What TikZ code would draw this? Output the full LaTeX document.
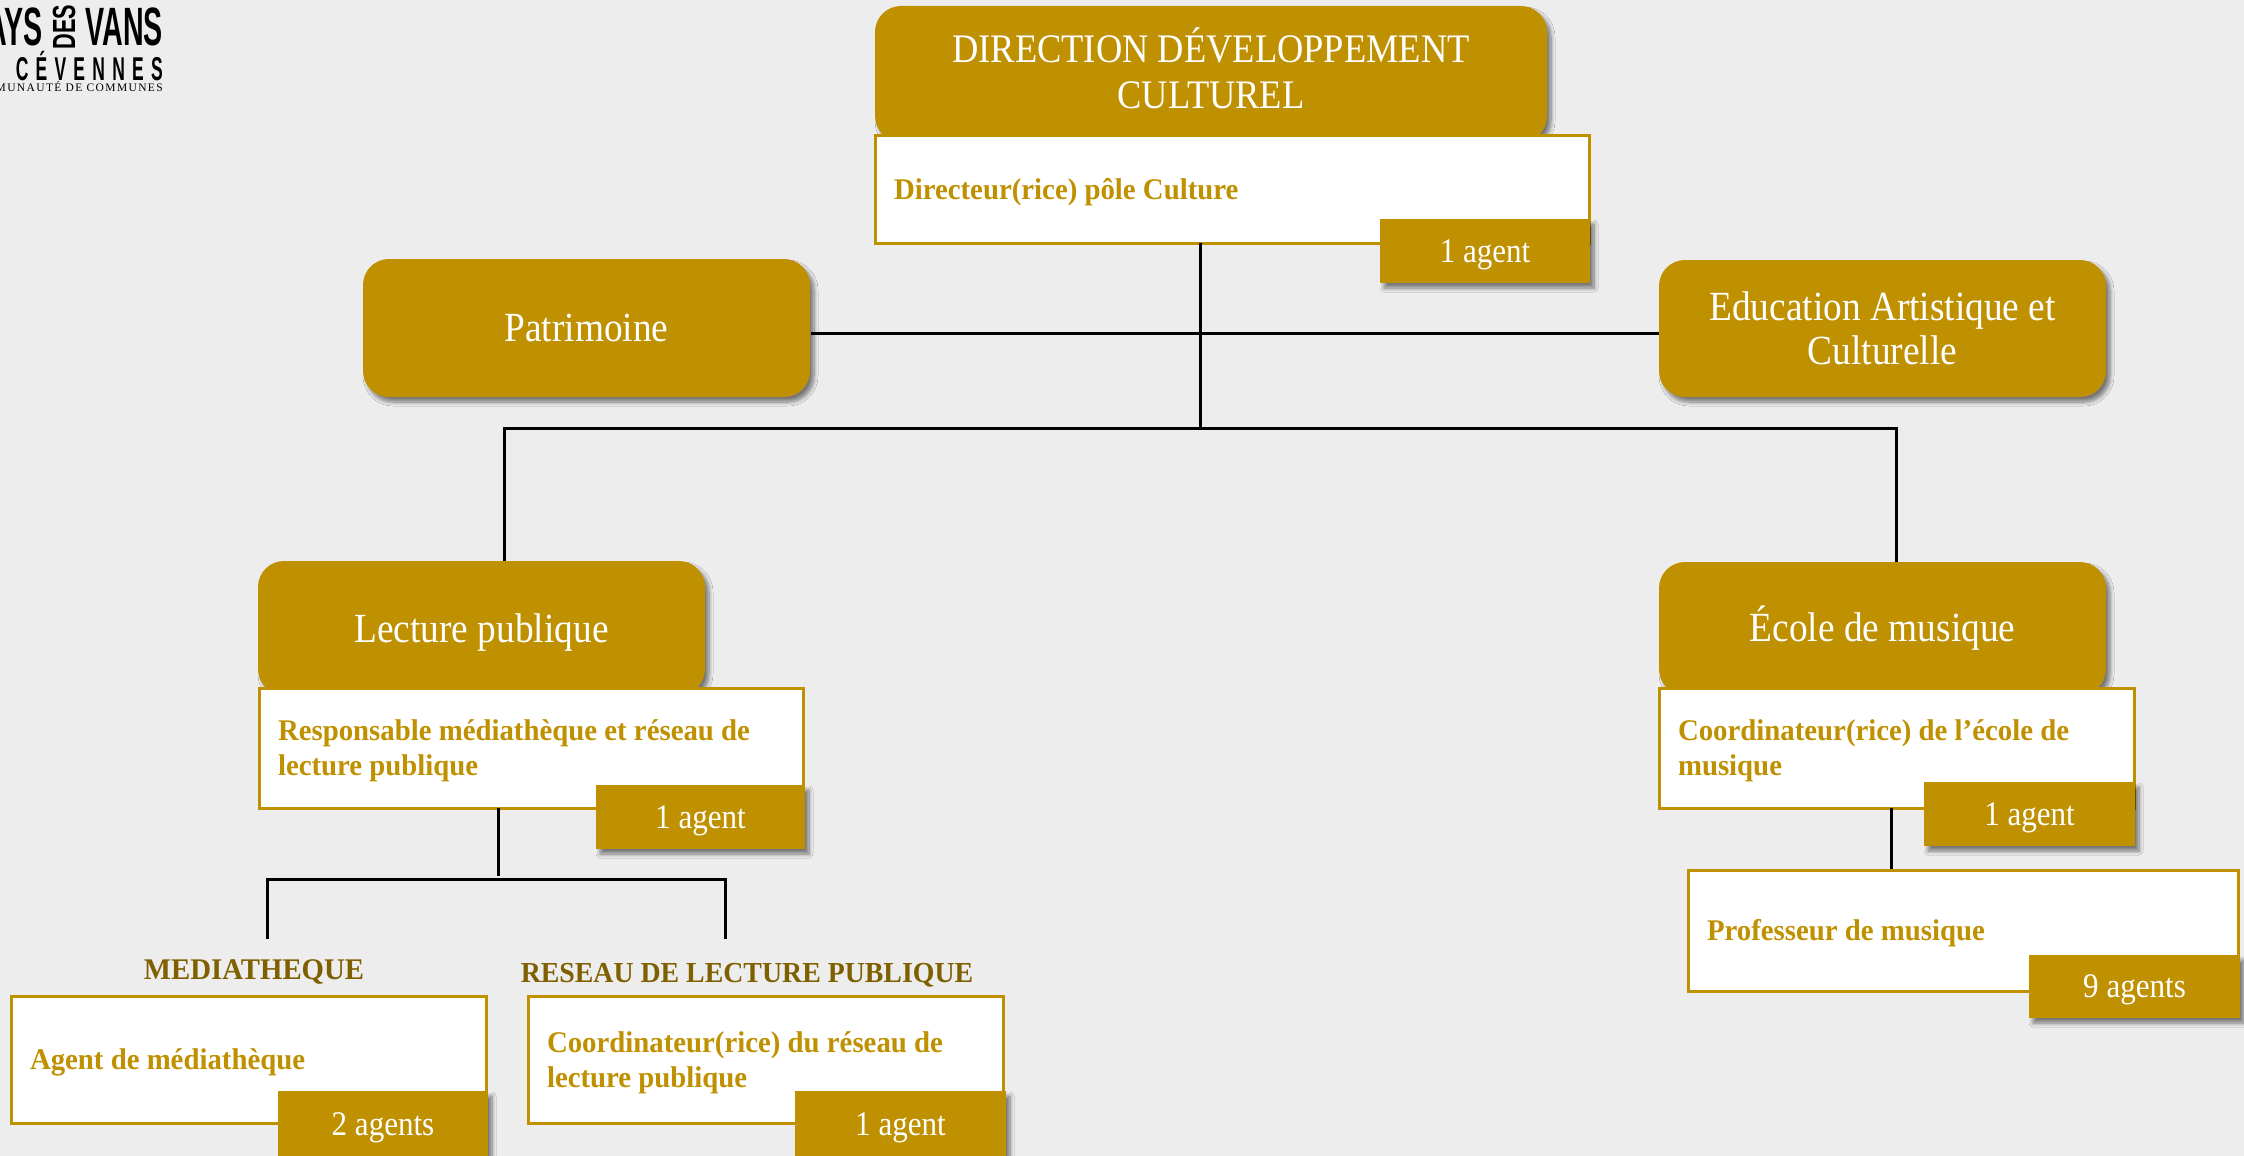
\documentclass[tikz,border=0pt]{standalone}
\usepackage{fontspec}
\setmainfont{Liberation Serif}[FakeStretch=0.9,BoldFeatures={FakeStretch=0.96}]
\newfontfamily\logofont{Liberation Sans}[FakeStretch=0.53]
\newfontfamily\logowide{Liberation Sans}[FakeStretch=0.68]
\newfontfamily\logoserif{Liberation Serif}
\usetikzlibrary{positioning,shadows,shadows.blur}
\definecolor{golden}{HTML}{BF9000}
\definecolor{darkgolden}{HTML}{7F6000}
\definecolor{pagegray}{HTML}{EDEDED}
\tikzset{
  softshadow/.style={blur shadow={shadow xshift=4pt,shadow yshift=-5pt,shadow blur radius=4pt,shadow opacity=50,shadow blur steps=8}},
  headbox/.style={anchor=north west,fill=golden,rounded corners=26pt,softshadow,text=white,align=center,
    inner sep=0pt,outer sep=0pt,font=\fontsize{41.5}{44}\selectfont},
  postbox/.style={anchor=north west,fill=white,draw=golden,line width=3pt,text=golden,align=flush left,
    inner xsep=19pt,inner ysep=0pt,outer sep=0pt,font=\fontsize{30}{35}\selectfont\bfseries,
    execute at begin node=\rule{0pt}{27pt}},
  countbox/.style={anchor=north west,fill=golden,softshadow,text=white,align=center,
    inner sep=0pt,outer sep=0pt,font=\fontsize{34.5}{35}\selectfont,
    execute at begin node=\rule{0pt}{30pt}},
  sitelabel/.style={text=darkgolden,inner sep=0pt,font=\fontsize{30}{35}\selectfont\bfseries},
  linkline/.style={draw=black,line width=3pt},
  logotext/.style={inner sep=0pt,text=black}
}
\begin{document}
\begin{tikzpicture}[x=1pt,y=-1pt]

        % page
        \path[use as bounding box,clip] (0,0) rectangle (2244,1156);
        \fill[pagegray] (0,0) rectangle (2244,1156);

        % logo
        \node[logotext,anchor=east,font=\logofont\fontsize{54}{54}\selectfont\bfseries] (logoa) at (43,27) {AYS};
        \node[logotext,rotate=90,font=\logowide\fontsize{32}{32}\selectfont\bfseries] (logob) at (64,27) {DES};
        \node[logotext,anchor=east,font=\logofont\fontsize{54}{54}\selectfont\bfseries] (logoc) at (163,27) {VANS};
        \node[logotext,anchor=east,font=\logofont\fontsize{33}{33}\selectfont\bfseries\addfontfeature{LetterSpace=22}] (logod) at (163,66) {CÉVENNES};
        \node[logotext,anchor=east,font=\logoserif\fontsize{11.5}{12}\selectfont\addfontfeature{LetterSpace=12}] (logoe) at (163,87) {MUNAUTÉ DE COMMUNES};

        % direction
        \node[headbox,minimum width=672pt,minimum height=136pt,font=\fontsize{40.5}{46}\selectfont] (dirhead) at (875,6) {DIRECTION DÉVELOPPEMENT\\CULTUREL\rule[-12pt]{0pt}{12pt}};
        \node[postbox,minimum width=714pt,minimum height=108pt,text width=676pt] (dirpost) at (875,135) {Directeur(rice) pôle Culture};
        \node[countbox,minimum width=210pt,minimum height=64pt] (dircount) at (1380,219) {1 agent};

        % side services
        \node[headbox,minimum width=447pt,minimum height=138pt] (patrimoine) at (363,259) {Patrimoine};
        \node[headbox,minimum width=447pt,minimum height=137pt] (education) at (1659,260) {Education Artistique et\\Culturelle};

        % lecture publique
        \node[headbox,minimum width=447pt,minimum height=134pt] (lecthead) at (258,561) {\rule{0pt}{38pt}Lecture publique};
        \node[postbox,minimum width=544pt,minimum height=120pt,text width=506pt] (lectpost) at (259,688) {Responsable médiathèque et réseau de\\lecture publique};
        \node[countbox,minimum width=209pt,minimum height=64pt] (lectcount) at (596,785) {1 agent};

        % ecole de musique
        \node[headbox,minimum width=447pt,minimum height=133pt] (musihead) at (1659,562) {École de musique};
        \node[postbox,minimum width=475pt,minimum height=120pt,text width=437pt] (musipost) at (1659,688) {Coordinateur(rice) de l’école de\\musique};
        \node[countbox,minimum width=211pt,minimum height=64pt] (musicount) at (1924,782) {1 agent};
        \node[postbox,minimum width=550pt,minimum height=121pt,text width=512pt] (profpost) at (1688,870) {Professeur de musique};
        \node[countbox,minimum width=211pt,minimum height=63pt] (profcount) at (2029,955) {9 agents};

        % mediatheque and reseau
        \node[sitelabel] (medilabel) at (254,972) {MEDIATHEQUE};
        \node[sitelabel,font=\fontsize{29}{35}\selectfont\bfseries] (reselabel) at (747,975) {RESEAU DE LECTURE PUBLIQUE};
        \node[postbox,minimum width=475pt,minimum height=127pt,text width=437pt] (medipost) at (11,996) {Agent de médiathèque};
        \node[countbox,minimum width=210pt,minimum height=66pt] (medicount) at (278,1091) {2 agents};
        \node[postbox,minimum width=475pt,minimum height=127pt,text width=437pt] (resepost) at (528,996) {Coordinateur(rice) du réseau de\\lecture publique};
        \node[countbox,minimum width=211pt,minimum height=66pt] (resecount) at (795,1091) {1 agent};

        % free ends of the links
        \coordinate (trunk) at (1200,428);
        \coordinate (busleft) at (504,428);
        \coordinate (busright) at (1896,428);
        \coordinate (sideleft) at (811,333);
        \coordinate (lectjoin) at (498,876);
        \coordinate (medidrop) at (267,939);
        \coordinate (resedrop) at (725,939);
        \coordinate (medibus) at (267,879);
        \coordinate (resebus) at (725,879);
        \coordinate (musidrop) at (1891,869);

        % links
        \draw[linkline] (trunk |- dirpost.south) -- (trunk);
        \draw[linkline] (sideleft) -- (sideleft -| education.west);
        \draw[linkline] (lecthead.north -| busleft) -- (busleft) -- (busright) -- (busright |- musihead.north);
        \draw[linkline] (lectjoin |- lectpost.south) -- (lectjoin);
        \draw[linkline] (medidrop) -- (medibus) -- (resebus) -- (resedrop);
        \draw[linkline] (musidrop |- musipost.south) -- (musidrop);

    \end{tikzpicture}
\end{document}
